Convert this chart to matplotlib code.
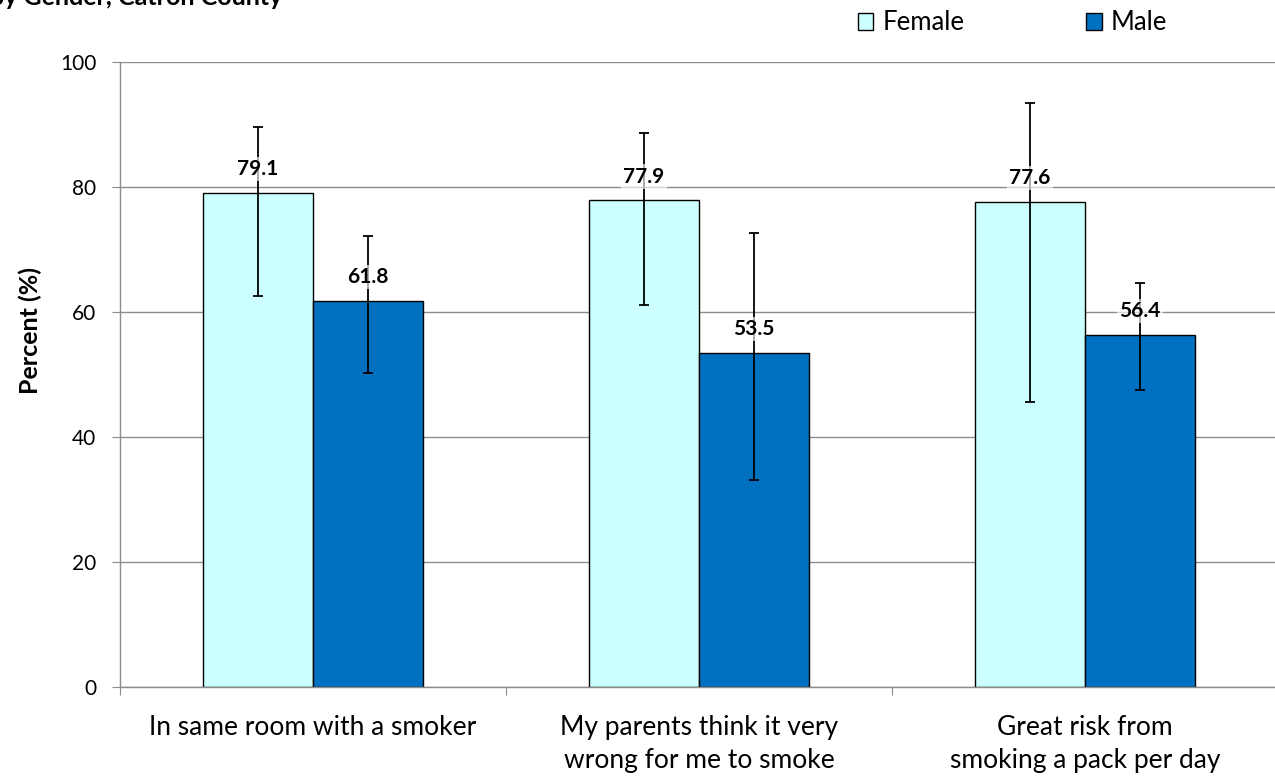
import matplotlib
matplotlib.use("Agg")
import matplotlib.pyplot as plt
import numpy as np
from matplotlib.patches import Patch

plt.rcParams['font.family'] = ['Lato', 'DejaVu Sans']

categories = ["In same room with a smoker",
              "My parents think it very\nwrong for me to smoke",
              "Great risk from\nsmoking a pack per day"]
female = [79.1, 77.9, 77.6]
male = [61.8, 53.5, 56.4]
female_lo = [62.6, 61.2, 45.6]
female_hi = [89.6, 88.7, 93.5]
male_lo = [50.2, 33.2, 47.5]
male_hi = [72.2, 72.7, 64.7]
yticks = [0, 20, 40, 60, 80, 100]

fig = plt.figure(figsize=(12.75, 7.76), dpi=100)
ax = fig.add_axes([120/1275, 1-687/776, 1158/1275, (687-62)/776])

x = np.arange(len(categories)) + 0.5
w = 0.285
fc = "#CCFFFF"
mc = "#0070C0"

ax.bar(x - w/2, female, w, color=fc, edgecolor="black", linewidth=1, zorder=2)
ax.bar(x + w/2, male, w, color=mc, edgecolor="black", linewidth=1, zorder=2)

fe = [np.array(female) - np.array(female_lo), np.array(female_hi) - np.array(female)]
me = [np.array(male) - np.array(male_lo), np.array(male_hi) - np.array(male)]
ax.errorbar(x - w/2, female, yerr=fe, fmt='none', ecolor='black', elinewidth=1.3,
            capsize=3.6, capthick=1.3, zorder=3)
ax.errorbar(x + w/2, male, yerr=me, fmt='none', ecolor='black', elinewidth=1.3,
            capsize=3.6, capthick=1.3, zorder=3)

for xs, vals in [(x - w/2, female), (x + w/2, male)]:
    for xi, v in zip(xs, vals):
        ax.annotate(f"{v:.1f}", (xi, v), xytext=(0, 17), textcoords='offset points',
                    ha='center', va='center', fontsize=15, fontweight='bold',
                    bbox=dict(boxstyle='square,pad=0.1', facecolor='white', alpha=0.65,
                              edgecolor='none'), zorder=4)

ax.set_xlim(0, 3)
ax.set_ylim(0, 100)
ax.set_yticks(yticks)
ax.set_yticklabels([str(t) for t in yticks], fontsize=15)
ax.yaxis.grid(True, color="#8c8c8c", linewidth=1)
ax.set_axisbelow(True)

ax.set_xticks([0, 1, 2, 3])
ax.set_xticklabels([])
ax.set_xticks(x, minor=True)
ax.set_xticklabels(categories, minor=True, fontsize=19, linespacing=1.4)
ax.tick_params(axis='x', which='minor', length=0, pad=20)
ax.tick_params(axis='x', which='major', length=6, color="#8c8c8c", direction='out')
ax.tick_params(axis='y', length=6, color="#8c8c8c", direction='out', pad=11)

for s in ['top', 'right']:
    ax.spines[s].set_visible(False)
for s in ['left', 'bottom']:
    ax.spines[s].set_color("#8c8c8c")
    ax.spines[s].set_linewidth(1)

ax.set_ylabel("Percent (%)", fontsize=18, fontweight='bold', va='center')
ax.yaxis.set_label_coords(-90/1158, (687-331)/625)

handles = [Patch(facecolor=fc, edgecolor='black', label='Female'),
           Patch(facecolor=mc, edgecolor='black', label='Male')]
fig.legend(handles=handles, loc='center left', bbox_to_anchor=(858/1275, 1-23/776),
           ncol=2, frameon=False, fontsize=18.5, handlelength=0.6, handleheight=0.6,
           handletextpad=0.35, columnspacing=4.75, borderaxespad=0, borderpad=0)

fig.text(-10/1275, 1-5/776, "by Gender, Catron County", fontsize=18, fontweight='bold',
         ha='left', va='baseline')

fig.savefig("out.png", dpi=100)
